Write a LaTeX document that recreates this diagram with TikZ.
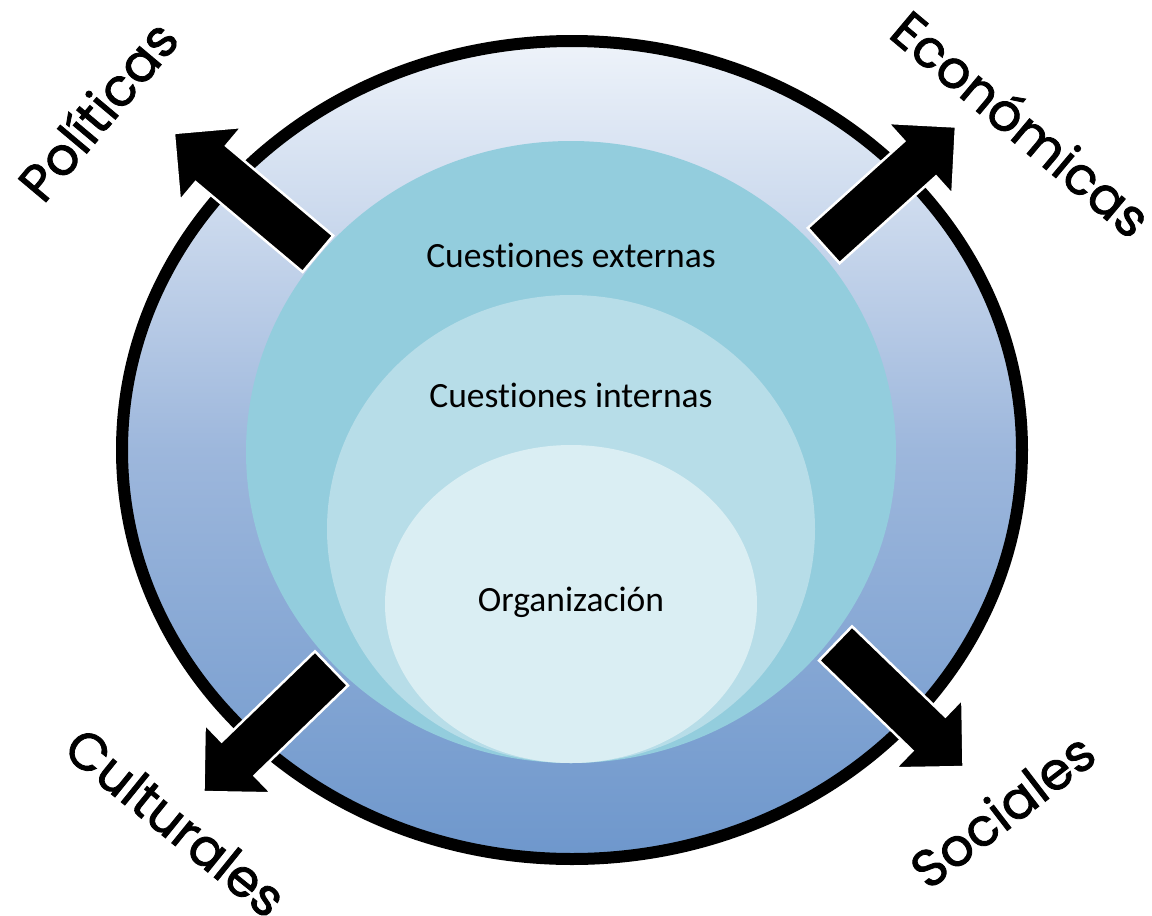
\documentclass[tikz,border=0pt]{standalone}
\usepackage{fontspec}
\setmainfont{Carlito}[Ligatures={NoCommon,NoRare,NoContextual}]
\newfontfamily\gothic{Poppins}[AutoFakeBold=1.6]
\usetikzlibrary{shapes.arrows}
\definecolor{ringtop}{HTML}{EEF3FA}
\definecolor{ringmid}{HTML}{9DB7DC}
\definecolor{ringbot}{HTML}{6E97CC}
\definecolor{extcol}{HTML}{93CDDD}
\definecolor{intcol}{HTML}{B7DDE8}
\definecolor{orgcol}{HTML}{DAEEF3}

\begin{document}
\begin{tikzpicture}
[x=1pt,y=-1pt,
ring/.style={draw=black,line width=12pt,top color=ringtop,bottom color=ringbot,middle color=ringmid},
bigarrow/.style={single arrow,fill=black,draw=white,line width=2.5pt,inner xsep=0pt,inner ysep=22.5pt,single arrow head extend=24.5pt,single arrow tip angle=90,single arrow head indent=0pt},
factor/.style={font=\gothic\bfseries\fontsize{52}{56}\selectfont,inner sep=0pt},
level/.style={font=\fontsize{35.5}{40}\selectfont},]

\useasboundingbox (0,0) rectangle (1152,916);

% rings
\draw[ring] (572,450) ellipse [x radius=450, y radius=409];
\fill[extcol] (571,452) ellipse [x radius=325, y radius=311];
\fill[intcol] (571,529) ellipse [x radius=244, y radius=234];
\fill[orgcol] (571,604) ellipse [x radius=186, y radius=159];

\node (ext) at (571,255)[level]{Cuestiones externas};
\node (int) at (571,395)[level]{Cuestiones internas};
\node (org) at (571,602)[level]{Organización};

% arrows
\node (aPol) at (255,201)[bigarrow,minimum height=188pt,rotate=140]{};
\node (aEco) at (881,194)[bigarrow,minimum height=178pt,rotate=42]{};
\node (aCul) at (276,722)[bigarrow,minimum height=178pt,rotate=224]{};
\node (aSoc) at (891,697)[bigarrow,minimum height=178pt,rotate=-44]{};

\node (pol) at (97,110)[factor,rotate=50]{Políticas};
\node (eco) at (1022,123)[factor,rotate=-40]{Económicas};
\node (cul) at (176,822)[factor,rotate=-39]{Culturales};
\node (soc) at (1002,810)[factor,rotate=37.5]{Sociales};

\end{tikzpicture}
\end{document}
